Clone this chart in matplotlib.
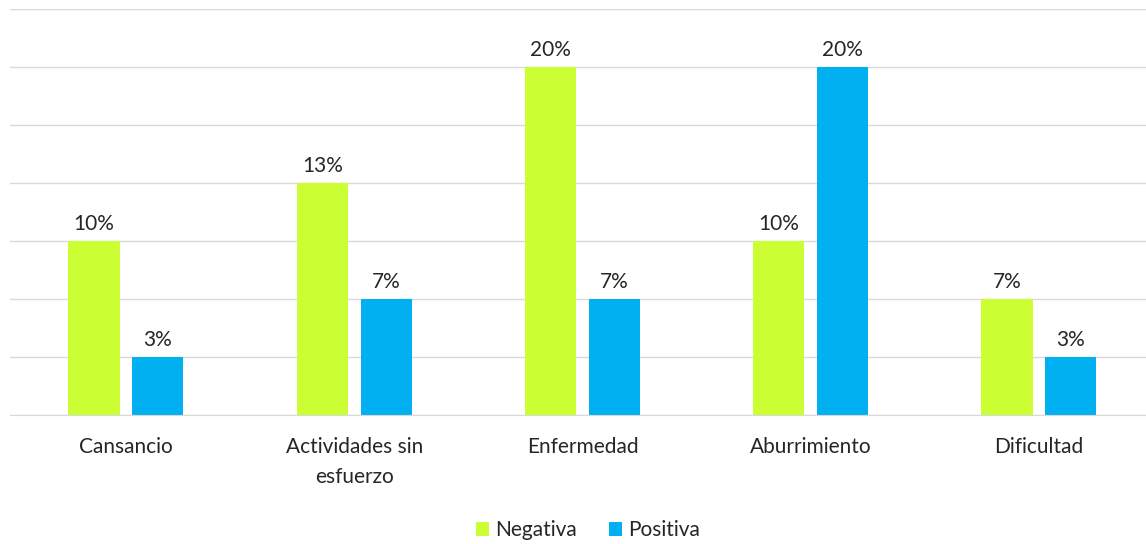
import matplotlib.pyplot as plt
import numpy as np

categories = ["Cansancio", "Actividades sin\nesfuerzo", "Enfermedad", "Aburrimiento", "Dificultad"]
negativa = [10.0, 13.33, 20.0, 10.0, 6.67]
positiva = [3.33, 6.67, 6.67, 20.0, 3.33]

plt.rcParams['font.family'] = ['Lato', 'DejaVu Sans']

fig = plt.figure(figsize=(11.46, 5.44), dpi=100)
ax = fig.add_axes([10/1146, (544-415)/544, 1136/1146, 406/544])

x = np.arange(len(categories))
w = 0.224
off = 0.14
b1 = ax.bar(x - off, negativa, w, color="#CCFF33", label="Negativa", zorder=2)
b2 = ax.bar(x + off, positiva, w, color="#00B0F0", label="Positiva", zorder=2)

for bars in (b1, b2):
    for r in bars:
        h = r.get_height()
        ax.text(r.get_x() + r.get_width()/2, h + 0.42, "%.0f%%" % h,
                ha="center", va="bottom", fontsize=15, color="#262626")

ax.set_ylim(0, 23.33)
ax.set_xlim(-0.508, 4.469)
ax.set_yticks(np.arange(0, 23.4, 10/3))
ax.yaxis.grid(True, color="#d9d9d9", linewidth=1, zorder=0)
ax.tick_params(axis="y", left=False, labelleft=False)
ax.tick_params(axis="x", length=0, pad=16, labelsize=15, labelcolor="#262626")
ax.set_xticks(x)
ax.set_xticklabels(categories, va="top", linespacing=1.6)
for s in ["top", "right", "left"]:
    ax.spines[s].set_visible(False)
ax.spines["bottom"].set_color("#d9d9d9")

fig.legend(loc="center", bbox_to_anchor=(588/1146, 1 - 530/544), ncol=2, frameon=False,
           fontsize=15, handlelength=0.65, handleheight=0.65, handletextpad=0.3, columnspacing=1.5,
           labelcolor="#262626")

fig.savefig("out.png", dpi=100)
